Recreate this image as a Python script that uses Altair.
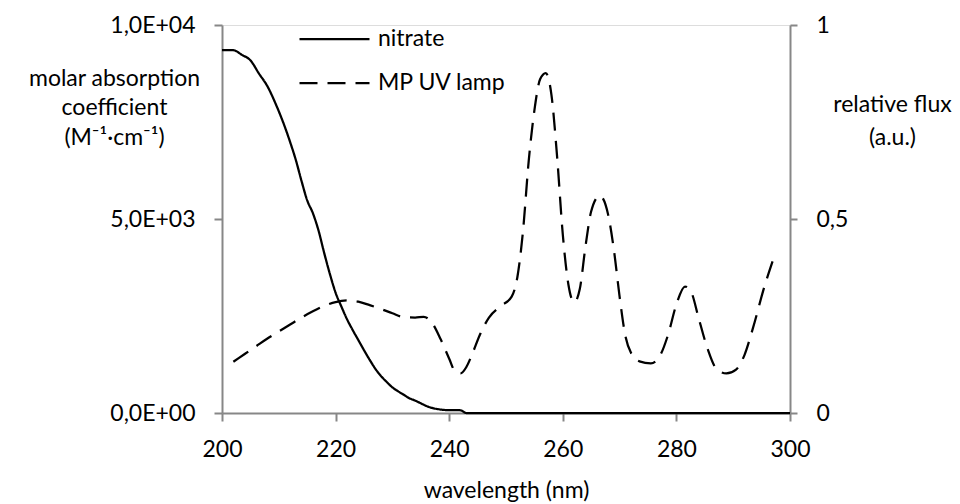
import altair as alt
import pandas as pd

# ---- data ----
wl_nitrate = [200, 202, 203.5, 205, 206.5, 208, 209.5, 211, 212, 213, 214, 215, 216, 217, 218,
              219, 220, 221, 222, 223, 224, 225, 226, 227, 228, 229, 230, 231, 232, 233, 234,
              235, 236, 237, 238, 239, 240, 241, 242, 243, 250, 260, 270, 280, 290, 300]
eps_nitrate = [9350, 9350, 9230, 9090, 8750, 8420, 7950, 7400, 6980, 6520, 5980, 5480, 5150, 4700, 4120,
               3580, 3100, 2750, 2420, 2140, 1880, 1620, 1370, 1140, 950, 800, 660, 560, 470, 380, 320,
               250, 180, 130, 100, 80, 75, 75, 70, 0, 0, 0, 0, 0, 0, 0]

wl_lamp = [202, 204, 206, 208, 210, 212, 214, 216, 218, 220, 222, 224, 226, 228, 230, 232, 234,
           235.5, 237, 238.5, 240, 241, 242, 243, 244, 245.5, 247, 249, 251, 252, 253, 254, 255,
           256, 257, 258, 259, 260, 261, 262, 263, 264, 265, 266.5, 268, 269, 270, 271, 272,
           273.5, 275.5, 277, 278.5, 280, 281.5, 282.5, 284, 285.5, 287, 288.8, 290.5, 292,
           293.5, 295.5, 297]
flux_lamp = [0.132, 0.152, 0.172, 0.192, 0.21, 0.228, 0.246, 0.262, 0.276, 0.286, 0.29, 0.287, 0.278,
             0.268, 0.257, 0.247, 0.246, 0.248, 0.232, 0.19, 0.14, 0.108, 0.102, 0.118, 0.15, 0.205,
             0.246, 0.275, 0.3, 0.35, 0.47, 0.65, 0.78, 0.86, 0.876, 0.82, 0.66, 0.46, 0.33, 0.285,
             0.32, 0.43, 0.52, 0.56, 0.51, 0.42, 0.3, 0.2, 0.155, 0.133, 0.128, 0.145, 0.2, 0.28,
             0.326, 0.315, 0.24, 0.165, 0.115, 0.102, 0.112, 0.15, 0.22, 0.326, 0.394]

series_names = ["nitrate", "MP UV lamp"]
x_ticks = [200, 220, 240, 260, 280, 300]
left_ticks = [0, 5000, 10000]
left_labels = ["0,0E+00", "5,0E+03", "1,0E+04"]
right_ticks = [0, 0.5, 1]
right_labels = ["0", "0,5", "1"]

x_title = "wavelength (nm)"
left_title = ["molar absorption", "coefficient", "(M\u207b\u00b9\u00b7cm\u207b\u00b9)"]
right_title = ["relative flux", "(a.u.)"]


def label_expr(values, labels):
    expr = f"'{labels[-1]}'"
    for v, l in reversed(list(zip(values[:-1], labels[:-1]))):
        expr = f"datum.value == {v} ? '{l}' : {expr}"
    return expr


df_n = pd.DataFrame({"wl": wl_nitrate, "val": eps_nitrate, "series": series_names[0]})
df_l = pd.DataFrame({"wl": wl_lamp, "val": flux_lamp, "series": series_names[1]})

FONT = "Lato"
GRAY = "#878787"
FS = 23

x_enc = alt.X("wl:Q", scale=alt.Scale(domain=[200, 300], nice=False),
              axis=alt.Axis(values=x_ticks, title=x_title, grid=False, labelFlush=False,
                            domainColor=GRAY, domainWidth=2, tickColor=GRAY, tickWidth=2,
                            tickSize=8, labelPadding=17, labelFontSize=FS, labelFont=FONT,
                            labelColor="black", titleFont=FONT, titleFontSize=FS,
                            titleFontWeight="normal", titleColor="black",
                            titleX=284, titleY=77, titleBaseline="middle", titleAlign="center"))

dash_scale = alt.Scale(domain=series_names, range=[[1, 0], [18, 10]])

nitrate = alt.Chart(df_n).mark_line(color="black", strokeWidth=2.25, interpolate="monotone").encode(
    x=x_enc,
    y=alt.Y("val:Q", scale=alt.Scale(domain=[0, 10000], nice=False),
            axis=alt.Axis(orient="left", values=left_ticks, labelExpr=label_expr(left_ticks, left_labels),
                          title=left_title, grid=False, domainColor=GRAY, domainWidth=2,
                          tickColor=GRAY, tickWidth=2, tickSize=8, labelPadding=19,
                          labelFontSize=FS, labelFont=FONT, labelColor="black",
                          titleFont=FONT, titleFontSize=FS, titleFontWeight="normal", titleColor="black",
                          titleAngle=0, titleX=-108, titleY=53, titleAlign="center",
                          titleBaseline="middle", titleLineHeight=29.5)),
    strokeDash=alt.StrokeDash("series:N", scale=dash_scale,
                              legend=alt.Legend(title=None, orient="none", legendX=76, legendY=-8,
                                                symbolType="stroke", symbolSize=4900, clipHeight=44,
                                                symbolStrokeColor="black", symbolStrokeWidth=2.25,
                                                labelFont=FONT, labelFontSize=FS, labelColor="black",
                                                labelOffset=7, rowPadding=0, padding=0)),
)

lamp = alt.Chart(df_l).mark_line(color="black", strokeWidth=2.25, interpolate="monotone").encode(
    x=x_enc,
    y=alt.Y("val:Q", scale=alt.Scale(domain=[0, 1], nice=False),
            axis=alt.Axis(orient="right", values=right_ticks, labelExpr=label_expr(right_ticks, right_labels),
                          title=right_title, grid=False, domainColor=GRAY, domainWidth=2,
                          tickColor=GRAY, tickWidth=2, tickSize=7, labelPadding=19,
                          labelFontSize=FS, labelFont=FONT, labelColor="black",
                          titleFont=FONT, titleFontSize=FS, titleFontWeight="normal", titleColor="black",
                          titleAngle=0, titleX=102, titleY=79, titleAlign="center",
                          titleBaseline="middle", titleLineHeight=33)),
    strokeDash=alt.StrokeDash("series:N", scale=dash_scale),
)

chart = alt.layer(nitrate, lamp).resolve_scale(y="independent").properties(
    width=568, height=388,
    autosize=alt.AutoSizeParams(type="none"),
    padding={"left": 222, "top": 25, "right": 170, "bottom": 91},
).configure_view(stroke=None).configure(background="white")

chart.save("out.html", embed_options={"renderer": "svg", "actions": False})
